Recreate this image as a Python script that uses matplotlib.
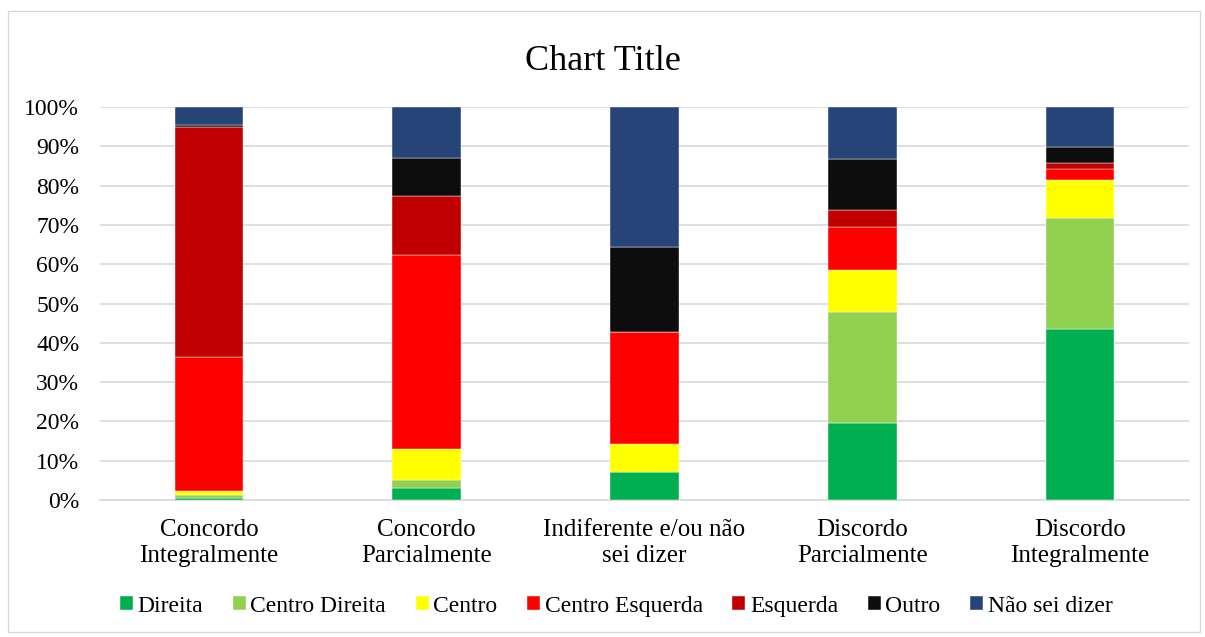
import numpy as np
import matplotlib
matplotlib.use('Agg')
import matplotlib.pyplot as plt
from matplotlib.patches import Rectangle

plt.rcParams['font.family'] = ['Liberation Serif', 'DejaVu Serif']

categories = ['Concordo\nIntegralmente', 'Concordo\nParcialmente', 'Indiferente e/ou não\nsei dizer',
              'Discordo\nParcialmente', 'Discordo\nIntegralmente']
series = ['Direita', 'Centro Direita', 'Centro', 'Centro Esquerda', 'Esquerda', 'Outro', 'Não sei dizer']
colors = ['#00B050', '#92D050', '#FFFF00', '#FF0000', '#C00000', '#0D0D0D', '#264478']

direita = [0.5, 3.1, 7.1, 19.5, 43.5]
centro_direita = [0.9, 2.0, 0.0, 28.3, 28.2]
centro = [0.8, 7.8, 7.1, 10.7, 9.7]
centro_esquerda = [34.1, 49.4, 28.5, 11.0, 2.9]
esquerda = [58.5, 15.1, 0.0, 4.3, 1.4]
outro = [0.7, 9.6, 21.6, 13.1, 4.2]
nao_sei = [4.5, 13.0, 35.7, 13.1, 10.1]

data = np.array([direita, centro_direita, centro, centro_esquerda, esquerda, outro, nao_sei])
data = data / data.sum(axis=0) * 100

fig = plt.figure(figsize=(12.05, 6.37), dpi=100)
ax = fig.add_axes([0.083, 0.215, 0.9037, 0.617])

fig.patches.append(Rectangle((0.007, 0.008), 0.989, 0.975, transform=fig.transFigure,
                             fill=False, edgecolor='#D9D9D9', linewidth=1))

x = np.arange(len(categories))
bottom = np.zeros(len(categories))
for i in range(len(series)):
    ax.bar(x, data[i], 0.315, bottom=bottom, color=colors[i], label=series[i],
           edgecolor='white', linewidth=0.3, zorder=3)
    bottom += data[i]

ax.set_xlim(-0.5, 4.5)
ax.set_ylim(0, 100)
ax.set_yticks(np.arange(0, 101, 10))
ax.set_yticklabels(['%d%%' % v for v in range(0, 101, 10)], fontsize=17)
ax.set_xticks(x)
ax.set_xticklabels(categories, fontsize=18, linespacing=1.2)
ax.tick_params(length=0)
ax.tick_params(axis='x', pad=14)
ax.tick_params(axis='y', pad=15)
ax.grid(axis='y', color='#D9D9D9', linewidth=1.2, zorder=0)
for s in ['top', 'right', 'left']:
    ax.spines[s].set_visible(False)
ax.spines['bottom'].set_color('#D9D9D9')
ax.spines['bottom'].set_linewidth(1.2)

fig.suptitle('Chart Title', fontsize=26, y=0.93)

ax.legend(loc='center', bbox_to_anchor=(0.474, -0.27), ncol=7, frameon=False, fontsize=17,
          handlelength=0.55, handleheight=0.55, handletextpad=0.2, columnspacing=1.25)

fig.savefig('out.png', dpi=100)
